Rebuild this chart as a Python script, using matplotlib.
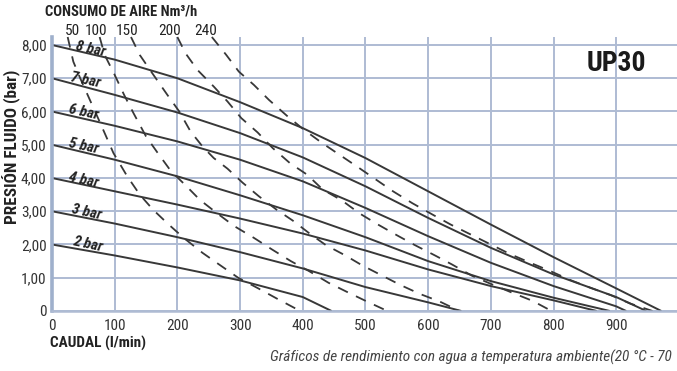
import matplotlib
matplotlib.use("Agg")
import matplotlib.pyplot as plt
from matplotlib import font_manager

# pick a narrow-ish family that is installed
names = set(f.name for f in font_manager.fontManager.ttflist)
fam = [f for f in ['Liberation Sans Narrow', 'Roboto Condensed', 'Roboto'] if f in names]
plt.rcParams['font.family'] = fam + ['DejaVu Sans']

# solid curves: fluid pressure for each air supply pressure
x8 = [0, 100, 200, 300, 400, 500, 600, 700, 800, 900, 972]
y8 = [8.0, 7.56, 7.0, 6.28, 5.5, 4.6, 3.6, 2.6, 1.62, 0.68, 0]
x7 = [0, 100, 200, 300, 400, 500, 600, 700, 800, 900, 948]
y7 = [7.0, 6.5, 5.97, 5.35, 4.62, 3.75, 2.8, 1.9, 1.1, 0.42, 0]
x6 = [0, 100, 200, 300, 400, 500, 600, 700, 800, 900, 916]
y6 = [6.0, 5.57, 5.1, 4.55, 3.9, 3.1, 2.25, 1.45, 0.75, 0.14, 0]
x5 = [0, 100, 200, 300, 400, 500, 600, 700, 800, 890]
y5 = [5.0, 4.55, 4.05, 3.48, 2.88, 2.22, 1.5, 0.9, 0.4, 0]
x4 = [0, 100, 200, 300, 400, 500, 600, 700, 800, 869]
y4 = [4.0, 3.6, 3.2, 2.78, 2.33, 1.82, 1.25, 0.75, 0.32, 0]
x3 = [0, 100, 200, 300, 400, 500, 600, 653]
y3 = [3.0, 2.63, 2.22, 1.77, 1.28, 0.72, 0.26, 0]
x2 = [0, 100, 200, 300, 400, 446]
y2 = [2.0, 1.67, 1.31, 0.92, 0.42, 0]

bar_curves = [(x8, y8), (x7, y7), (x6, y6), (x5, y5), (x4, y4), (x3, y3), (x2, y2)]
bar_labels = ["8 bar", "7 bar", "6 bar", "5 bar", "4 bar", "3 bar", "2 bar"]
bar_label_x = [61, 54, 50, 50, 50, 55, 57]
bar_label_y = [7.87, 6.95, 5.98, 4.96, 3.94, 2.98, 2.02]

# dashed curves: air consumption Nm3/h
ax50 = [25, 34, 45, 58, 77, 98, 120, 140, 161, 185, 210, 240, 268, 297, 329, 361, 396]
ay50 = [8.24, 7.5, 7.0, 6.45, 5.65, 4.75, 4.05, 3.5, 3.05, 2.62, 2.2, 1.75, 1.38, 1.0, 0.68, 0.35, 0]
ax100 = [76, 84, 100, 115, 130, 150, 168, 190, 212, 236, 264, 291, 322, 351, 381, 410, 441, 471, 503, 535]
ay100 = [8.24, 7.7, 7.1, 6.5, 5.95, 5.25, 4.77, 4.2, 3.8, 3.34, 2.93, 2.55, 2.2, 1.85, 1.5, 1.2, 0.85, 0.57, 0.28, 0]
ax150 = [126, 140, 160, 184, 203, 221, 240, 258, 280, 304, 330, 358, 384, 413, 437, 468, 495, 525, 556, 586, 619, 650]
ay150 = [8.24, 7.7, 7.15, 6.5, 6.0, 5.4, 4.95, 4.6, 4.28, 3.86, 3.45, 3.05, 2.72, 2.3, 1.98, 1.67, 1.37, 1.08, 0.78, 0.52, 0.28, 0]
ax200 = [200, 213, 232, 258, 280, 302, 328, 352, 380, 407, 432, 462, 491, 520, 550, 579, 611, 638, 670, 702, 734, 766, 797]
ay200 = [8.24, 7.75, 7.25, 6.75, 6.3, 5.8, 5.37, 4.9, 4.44, 4.1, 3.65, 3.33, 2.93, 2.6, 2.28, 1.98, 1.67, 1.4, 1.06, 0.8, 0.55, 0.31, 0]
ax240 = [255, 278, 298, 322, 346, 376, 402, 431, 490, 544, 575, 607, 636, 668, 700, 731, 763, 795, 827, 860, 891, 923, 958]
ay240 = [8.24, 7.7, 7.2, 6.8, 6.35, 5.85, 5.45, 5.05, 4.3, 3.6, 3.24, 2.9, 2.6, 2.3, 2.0, 1.71, 1.45, 1.2, 0.93, 0.69, 0.48, 0.22, 0]

air_curves = [(ax50, ay50), (ax100, ay100), (ax150, ay150), (ax200, ay200), (ax240, ay240)]
air_labels = ["50", "100", "150", "200", "240"]
air_label_x = [33, 70, 119, 188, 245]

x_ticks = [0, 100, 200, 300, 400, 500, 600, 700, 800, 900]
y_ticks = [0, 1, 2, 3, 4, 5, 6, 7, 8]
y_ticklabels = ["0", "1,00", "2,00", "3,00", "4,00", "5,00", "6,00", "7,00", "8,00"]

grid_col = '#aebbd3'
line_col = '#383838'

fig = plt.figure(figsize=(6.77, 3.71), dpi=100)
ax = fig.add_axes([52 / 677, 60 / 371, 625 / 677, 274 / 371])
ax.set_xlim(0, 997)
ax.set_ylim(0, 8.24)

ax.set_xticks(x_ticks)
ax.set_yticks(y_ticks)
ax.set_yticklabels(y_ticklabels)
ax.tick_params(length=0, labelsize=11, labelcolor='#333333', pad=4)
ax.tick_params(axis='x', pad=6)
ax.grid(True, color=grid_col, lw=1.4)
ax.set_axisbelow(True)
for s in ['top', 'right']:
    ax.spines[s].set_visible(False)
ax.spines['left'].set_color('#9fb0cc')
ax.spines['left'].set_linewidth(2.6)
ax.spines['bottom'].set_color(grid_col)
ax.spines['bottom'].set_linewidth(1.8)

for xs, ys in bar_curves:
    ax.plot(xs, ys, color=line_col, lw=1.4, solid_capstyle='butt')

for xs, ys in air_curves:
    ax.plot(xs, ys, color=line_col, lw=1.3, dashes=(6, 5), clip_on=False)

for lab, lx, ly in zip(bar_labels, bar_label_x, bar_label_y):
    ax.text(lx, ly, lab, fontsize=11, fontweight='bold', fontstyle='italic',
            color='#222222', rotation=-12, ha='center', va='center')

for lab, lx in zip(air_labels, air_label_x):
    ax.text(lx, 8.43, lab, fontsize=11, color='#222222', ha='center', va='center', clip_on=False)

ax.text(900, 7.43, "UP30", fontsize=20, fontweight='bold', color='#1a1a1a', ha='center', va='center')

fig.text(121 / 677, 1 - 12 / 371, "CONSUMO DE AIRE Nm³/h", fontsize=10.5, fontweight='bold',
         color='#222222', ha='center', va='center')
fig.text(12 / 677, 1 - 147 / 371, "PRESIÓN FLUIDO (bar)", fontsize=12.3, fontweight='bold',
         color='#222222', ha='center', va='center', rotation=90)
fig.text(50 / 677, 1 - 343 / 371, "CAUDAL (l/min)", fontsize=11, fontweight='bold',
         color='#222222', ha='left', va='center')
fig.text(672 / 677, 1 - 357 / 371, "Gráficos de rendimiento con agua a temperatura ambiente(20 °C - 70",
         fontsize=11, fontstyle='italic', color='#444444', ha='right', va='center')

fig.savefig("out.png", dpi=100)
